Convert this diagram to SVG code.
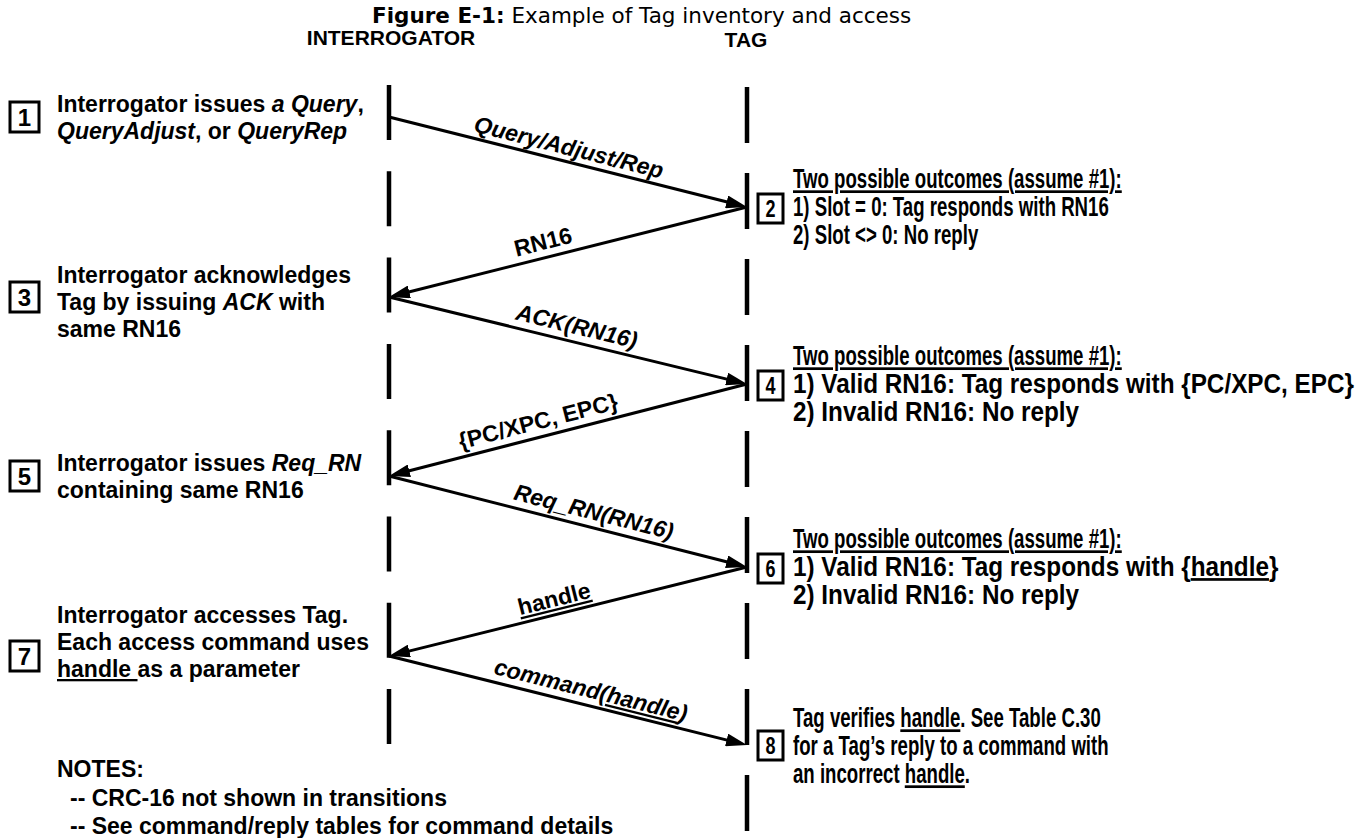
<svg xmlns="http://www.w3.org/2000/svg" width="1364" height="838" viewBox="0 0 1364 838">
  <style>
    .title { font-family: "DejaVu Sans", Verdana, sans-serif; font-size: 21.5px; fill: #000; }
    .head { font-family: "Liberation Sans", Arial, sans-serif; font-weight: bold; font-size: 21px; fill: #000; }
    .txt { font-family: "Liberation Sans", Arial, sans-serif; font-weight: bold; font-size: 23px; fill: #000; }
    .rt { font-family: "Liberation Sans", Arial, sans-serif; font-weight: bold; font-size: 27px; fill: #000; }
    .lbl { font-family: "Liberation Sans", Arial, sans-serif; font-weight: bold; font-size: 23px; fill: #000; text-anchor: middle; }
    .num { font-family: "Liberation Sans", Arial, sans-serif; font-weight: bold; font-size: 24px; fill: #000; text-anchor: middle; }
    .it { font-style: italic; }
    .ul { text-decoration: underline; }
    .box { fill: #fff; stroke: #000; stroke-width: 3; }
    .life { stroke: #000; stroke-width: 4.5; fill: none; }
    .msg { stroke: #000; stroke-width: 3; fill: none; marker-end: url(#head); }
  </style>
  <defs>
    <marker id="head" markerUnits="userSpaceOnUse" markerWidth="21" markerHeight="13" refX="15" refY="6.5" orient="auto">
      <path d="M0,0 L21,6.5 L0,13 z" fill="#000"/>
    </marker>
  </defs>
  <rect width="1364" height="838" fill="#fff"/>

  <!-- caption and column headings -->
  <text class="title" x="372" y="23"><tspan font-weight="bold">Figure E-1:</tspan> Example of Tag inventory and access</text>
  <text class="head" x="391" y="45" text-anchor="middle">INTERROGATOR</text>
  <text class="head" x="746" y="47" text-anchor="middle">TAG</text>

  <!-- lifelines -->
  <g id="lifelines">
    <line class="life" x1="389" y1="85" x2="389" y2="745" stroke-dasharray="55 31.3"/>
    <line class="life" x1="747" y1="87" x2="747" y2="831" stroke-dasharray="56 30"/>
  </g>

  <!-- messages between interrogator and tag -->
  <g id="connectors">
    <line class="msg" x1="389" y1="117" x2="741.2" y2="205.5"/>
    <line class="msg" x1="747" y1="207" x2="394.8" y2="295.5"/>
    <line class="msg" x1="389" y1="297" x2="741.2" y2="382.6"/>
    <line class="msg" x1="747" y1="384" x2="394.8" y2="474.5"/>
    <line class="msg" x1="389" y1="476" x2="741.2" y2="565.5"/>
    <line class="msg" x1="747" y1="567" x2="394.8" y2="654.6"/>
    <line class="msg" x1="389" y1="656" x2="741.2" y2="743.6"/>

    <text class="lbl it" transform="translate(567,155) rotate(14.1)">Query/Adjust/Rep</text>
    <text class="lbl" transform="translate(545,249.5) rotate(-14.1)">RN16</text>
    <text class="lbl it" transform="translate(575,334) rotate(13.66)">ACK(RN16)</text>
    <text class="lbl" transform="translate(540,429) rotate(-14.41)">{PC/XPC, EPC}</text>
    <text class="lbl it" transform="translate(592,519.5) rotate(14.26)">Req_RN(RN16)</text>
    <text class="lbl ul" transform="translate(556,606.4) rotate(-13.96)">handle</text>
    <text class="lbl it" transform="translate(589,697.7) rotate(13.96)">command(<tspan class="ul">handle</tspan>)</text>
  </g>

  <!-- interrogator steps -->
  <g id="step1">
    <rect class="box" x="10" y="102" width="29" height="30"/>
    <text class="num" x="24.5" y="126">1</text>
    <text class="txt" x="57" y="112">Interrogator issues <tspan class="it">a Query</tspan>,</text>
    <text class="txt" x="57" y="139"><tspan class="it">QueryAdjust</tspan>, or <tspan class="it">QueryRep</tspan></text>
  </g>
  <g id="step3">
    <rect class="box" x="10" y="282" width="29" height="30"/>
    <text class="num" x="24.5" y="306">3</text>
    <text class="txt" x="57" y="283">Interrogator acknowledges</text>
    <text class="txt" x="57" y="310">Tag by issuing <tspan class="it">ACK</tspan> with</text>
    <text class="txt" x="57" y="337">same RN16</text>
  </g>
  <g id="step5">
    <rect class="box" x="10" y="461" width="29" height="30"/>
    <text class="num" x="24.5" y="485">5</text>
    <text class="txt" x="57" y="471">Interrogator issues <tspan class="it">Req_RN</tspan></text>
    <text class="txt" x="57" y="498">containing same RN16</text>
  </g>
  <g id="step7">
    <rect class="box" x="10" y="641" width="29" height="30"/>
    <text class="num" x="24.5" y="665">7</text>
    <text class="txt" x="57" y="623">Interrogator accesses Tag.</text>
    <text class="txt" x="57" y="650">Each access command uses</text>
    <text class="txt" x="57" y="677"><tspan class="ul">handle </tspan>as a parameter</text>
  </g>
  <g id="notes">
    <text class="txt" x="57" y="777">NOTES:</text>
    <text class="txt" x="70" y="806">-- CRC-16 not shown in transitions</text>
    <text class="txt" x="70" y="834">-- See command/reply tables for command details</text>
  </g>

  <!-- tag steps -->
  <g id="step2">
    <rect class="box" x="758" y="194" width="25" height="29"/>
    <text class="num" transform="translate(770.5,217) scale(0.75,1)">2</text>
    <g transform="translate(793,0) scale(0.69,1)">
      <text class="rt ul" x="0" y="188">Two possible outcomes (assume #1):</text>
      <text class="rt" x="0" y="216">1) Slot = 0: Tag responds with RN16</text>
      <text class="rt" x="0" y="244">2) Slot &lt;&gt; 0: No reply</text>
    </g>
  </g>
  <g id="step4">
    <rect class="box" x="758" y="371" width="25" height="29"/>
    <text class="num" transform="translate(770.5,394) scale(0.75,1)">4</text>
    <g transform="translate(793,0) scale(0.69,1)">
      <text class="rt ul" x="0" y="365">Two possible outcomes (assume #1):</text>
    </g>
    <g transform="translate(793,0) scale(0.9,1)">
      <text class="rt" x="0" y="393">1) Valid RN16: Tag responds with {PC/XPC, EPC}</text>
      <text class="rt" x="0" y="421">2) Invalid RN16: No reply</text>
    </g>
  </g>
  <g id="step6">
    <rect class="box" x="758" y="554" width="25" height="29"/>
    <text class="num" transform="translate(770.5,577) scale(0.75,1)">6</text>
    <g transform="translate(793,0) scale(0.69,1)">
      <text class="rt ul" x="0" y="548">Two possible outcomes (assume #1):</text>
    </g>
    <g transform="translate(793,0) scale(0.9,1)">
      <text class="rt" x="0" y="576">1) Valid RN16: Tag responds with {<tspan class="ul">handle</tspan>}</text>
      <text class="rt" x="0" y="604">2) Invalid RN16: No reply</text>
    </g>
  </g>
  <g id="step8">
    <rect class="box" x="758" y="731" width="25" height="29"/>
    <text class="num" transform="translate(770.5,754) scale(0.75,1)">8</text>
    <g transform="translate(793,0) scale(0.69,1)">
      <text class="rt" x="0" y="727">Tag verifies <tspan class="ul">handle</tspan>. See Table C.30</text>
      <text class="rt" x="0" y="755">for a Tag’s reply to a command with</text>
      <text class="rt" x="0" y="783">an incorrect <tspan class="ul">handle</tspan>.</text>
    </g>
  </g>
</svg>
